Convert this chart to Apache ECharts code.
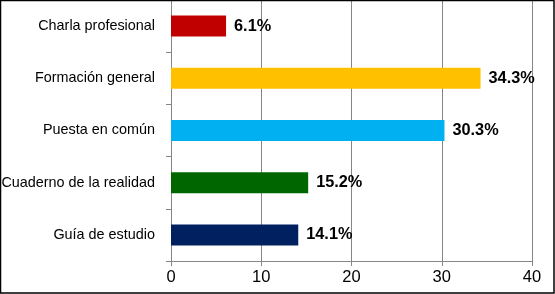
<!DOCTYPE html>
<html><head><meta charset="utf-8">
<script src="https://cdn.jsdelivr.net/npm/echarts@6/dist/echarts.min.js"></script>
<style>html,body{margin:0;padding:0;background:#fff}#c{width:555px;height:294px}</style>
</head><body><div id="c"></div>
<script>
var categories = ["Charla profesional", "Formación general", "Puesta en común", "Cuaderno de la realidad", "Guía de estudio"];
var values = [6.1, 34.3, 30.3, 15.2, 14.1];
var colors = ["#C00000", "#FFC000", "#00B0F0", "#006600", "#002060"];
var xTicks = [0, 10, 20, 30, 40];

var chart = echarts.init(document.getElementById('c'), null, {renderer: 'canvas'});
chart.setOption({
  animation: false,
  backgroundColor: '#fff',
  grid: {left: 171, right: 23, top: 0, bottom: 33, containLabel: false, outerBoundsMode: 'none'},
  xAxis: {
    type: 'value', min: xTicks[0], max: xTicks[xTicks.length - 1], interval: 10,
    axisLine: {show: true, lineStyle: {color: '#868686', width: 1}},
    axisTick: {show: true, length: 5, lineStyle: {color: '#868686'}},
    splitLine: {show: true, lineStyle: {color: '#868686', width: 1}},
    axisLabel: {color: '#000', fontFamily: 'Liberation Sans, Arial', fontSize: 16.5, margin: 8}
  },
  yAxis: {
    type: 'category', data: categories, inverse: true,
    axisLine: {show: true, lineStyle: {color: '#868686', width: 1}},
    axisTick: {show: true, length: 5, lineStyle: {color: '#868686'}},
    axisLabel: {color: '#000', fontFamily: 'Liberation Sans, Arial', fontSize: 14.4, margin: 16}
  },
  series: [{
    type: 'bar',
    barWidth: 21,
    data: values.map(function (v, i) { return {value: v, itemStyle: {color: colors[i]}}; }),
    label: {
      show: true, position: 'right', distance: 8,
      formatter: function (p) { return p.value.toFixed(1) + '%'; },
      color: '#000', fontWeight: 'bold', fontFamily: 'Liberation Sans, Arial', fontSize: 16.3
    }
  }],
  graphic: [{
    type: 'rect', silent: true, z: 100,
    shape: {x: 0.5, y: 0.5, width: 553.5, height: 292.5},
    style: {fill: null, stroke: '#000', lineWidth: 1.5}
  }]
});
</script></body></html>
